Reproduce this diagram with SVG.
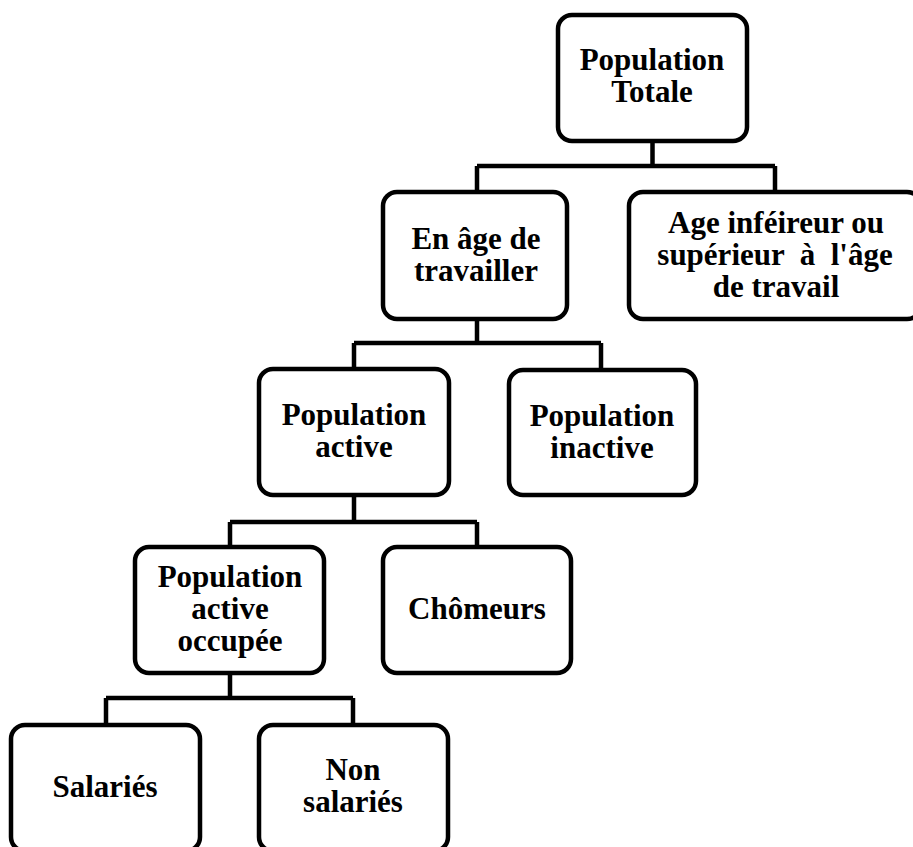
<svg xmlns="http://www.w3.org/2000/svg" width="913" height="847" viewBox="0 0 913 847">
<style>
.box{fill:#fff;stroke:#000;stroke-width:4.5}
.conn{fill:none;stroke:#000;stroke-width:4.5;stroke-linejoin:miter}
text{font-family:"Liberation Serif","Times New Roman",serif;font-weight:bold;font-size:31px;fill:#000;text-anchor:middle;white-space:pre}
</style>
<rect width="913" height="847" fill="#fff"/>
<g id="connectors">
<path class="conn" d="M652.5,142 V166 M477,166 H775 M477,166 V191 M775,166 V191"/>
<path class="conn" d="M477,320 V343 M354,343 H601 M354,343 V368 M601,343 V368"/>
<path class="conn" d="M354,496 V522 M230,522 H477 M230,522 V546 M477,522 V546"/>
<path class="conn" d="M230,674 V698 M106,698 H353 M106,698 V724 M353,698 V724"/>
</g>
<g id="n1"><rect class="box" x="558" y="15" width="189" height="126" rx="14"/><text x="652" y="70">Population</text><text x="652" y="102">Totale</text></g>
<g id="n2"><rect class="box" x="383" y="192" width="184" height="127" rx="14"/><text x="476" y="249">En âge de</text><text x="476" y="281">travailler</text></g>
<g id="n3"><rect class="box" x="629" y="192" width="292" height="127" rx="14"/><text x="776" y="233">Age inféireur ou</text><text x="775" y="265" xml:space="preserve">supérieur  à  l'âge</text><text x="776" y="297">de travail</text></g>
<g id="n4"><rect class="box" x="259" y="369" width="190" height="126" rx="14"/><text x="354" y="425">Population</text><text x="354" y="457">active</text></g>
<g id="n5"><rect class="box" x="509" y="370" width="187" height="125" rx="14"/><text x="602" y="426">Population</text><text x="602" y="458">inactive</text></g>
<g id="n6"><rect class="box" x="135" y="547" width="189" height="126" rx="14"/><text x="230" y="587">Population</text><text x="230" y="619">active</text><text x="230" y="651">occupée</text></g>
<g id="n7"><rect class="box" x="383" y="547" width="188" height="126" rx="14"/><text x="477" y="619">Chômeurs</text></g>
<g id="n8"><rect class="box" x="11" y="725" width="189" height="126" rx="14"/><text x="105" y="797">Salariés</text></g>
<g id="n9"><rect class="box" x="259" y="725" width="189" height="126" rx="14"/><text x="353" y="780">Non</text><text x="353" y="812">salariés</text></g>
</svg>
